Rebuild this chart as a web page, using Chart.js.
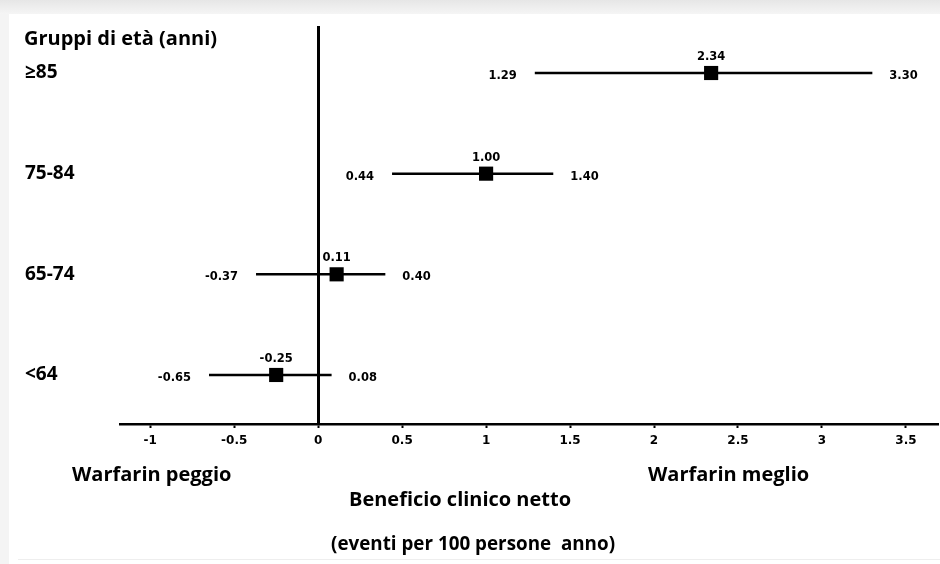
<!DOCTYPE html>
<html>
<head>
    <title>Beneficio clinico netto</title>
    <script src="https://cdn.jsdelivr.net/npm/chart.js"></script>
    <style>
        body { margin: 0; background: #fff; }
        canvas { display: block; }
    </style>
</head>
<body>
    <canvas id="forest" width="940" height="564"></canvas>
    <script>
        // data
        const groups = ['≥85', '75-84', '65-74', '<64'];
        const rowPos = [4, 3, 2, 1];
        const means = [2.34, 1.00, 0.11, -0.25];
        const lower = [1.29, 0.44, -0.37, -0.65];
        const upper = [3.30, 1.40, 0.40, 0.08];
        const tickValues = [-1, -0.5, 0, 0.5, 1, 1.5, 2, 2.5, 3, 3.5];

        const boldSans = '"Open Sans", sans-serif';
        const wideSans = '"DejaVu Sans", sans-serif';

        const whiskers = groups.map((g, i) => ({
            type: 'line',
            label: g,
            data: [{ x: lower[i], y: rowPos[i] }, { x: upper[i], y: rowPos[i] }],
            borderColor: '#000',
            borderWidth: 2.5,
            pointRadius: 0,
            showLine: true
        }));

        const markers = {
            type: 'scatter',
            label: 'media',
            data: means.map((m, i) => ({ x: m, y: rowPos[i] })),
            pointStyle: 'rect',
            pointRadius: 10,
            pointHoverRadius: 10,
            backgroundColor: '#000',
            borderColor: '#000',
            borderWidth: 0
        };

        const textPlugin = {
            id: 'forestText',
            beforeDraw: chart => {
                const c = chart.ctx;
                c.save();
                c.fillStyle = '#f4f4f4';
                c.fillRect(0, 0, 9, chart.height);
                const g = c.createLinearGradient(0, 0, 0, 14);
                g.addColorStop(0, '#e6e6e6');
                g.addColorStop(1, '#f5f5f5');
                c.fillStyle = g;
                c.fillRect(0, 0, chart.width, 14);
                c.fillStyle = '#eeeeee';
                c.fillRect(18, 559, chart.width, 1);
                c.restore();
            },
            afterDatasetsDraw: chart => {
                const c = chart.ctx;
                const xs = chart.scales.x;
                const ys = chart.scales.y;
                c.save();
                c.fillStyle = '#000';
                c.textBaseline = 'middle';

                // value labels
                c.font = 'bold 11.5px ' + wideSans;
                groups.forEach((g, i) => {
                    const y = ys.getPixelForValue(rowPos[i]);
                    c.textAlign = 'center';
                    c.fillText(means[i].toFixed(2), xs.getPixelForValue(means[i]), y - 16);
                    c.textAlign = 'right';
                    c.fillText(lower[i].toFixed(2), xs.getPixelForValue(lower[i]) - 18, y + 3);
                    c.textAlign = 'left';
                    c.fillText(upper[i].toFixed(2), xs.getPixelForValue(upper[i]) + 17, y + 3);
                });

                // row labels
                c.textAlign = 'left';
                c.font = 'bold 20px ' + boldSans;
                c.fillText('Gruppi di età (anni)', 24, 39);
                c.font = 'bold 19px ' + boldSans;
                groups.forEach((g, i) => {
                    c.fillText(g, 25, ys.getPixelForValue(rowPos[i]));
                });

                // bottom captions
                c.font = 'bold 20px ' + boldSans;
                c.fillText('Warfarin peggio', 72, 475, 163);
                c.fillText('Warfarin meglio', 648, 475, 164);
                c.textAlign = 'center';
                c.fillText('Beneficio clinico netto', 460, 500, 222);
                c.fillText('(eventi per 100 persone  anno)', 473, 544, 284);
                c.restore();
            }
        };

        const chart = new Chart(document.getElementById('forest').getContext('2d'), {
            data: { datasets: [...whiskers, markers] },
            options: {
                responsive: false,
                animation: false,
                layout: { autoPadding: false, padding: { left: 120, right: 3, top: 26, bottom: 0 } },
                plugins: {
                    legend: { display: false },
                    tooltip: { enabled: false }
                },
                scales: {
                    x: {
                        type: 'linear',
                        min: -1.18,
                        max: 3.685,
                        afterBuildTicks: scale => {
                            scale.ticks = tickValues.map(v => ({ value: v }));
                        },
                        afterFit: scale => {
                            scale.height = 140;
                            scale.paddingLeft = 0;
                            scale.paddingRight = 0;
                        },
                        border: { display: true, color: '#000', width: 2.5 },
                        grid: {
                            drawOnChartArea: true,
                            color: ctx => (ctx.tick && ctx.tick.value === 0 ? '#000' : 'rgba(0,0,0,0)'),
                            lineWidth: 3,
                            tickColor: '#000',
                            tickLength: 4,
                            tickWidth: 2
                        },
                        ticks: {
                            padding: 6,
                            color: '#000',
                            font: { family: wideSans, size: 12, weight: 'bold' },
                            callback: v => String(v)
                        }
                    },
                    y: {
                        type: 'linear',
                        display: false,
                        min: 0.513,
                        max: 4.467
                    }
                }
            },
            plugins: [textPlugin]
        });
    </script>
</body>
</html>
